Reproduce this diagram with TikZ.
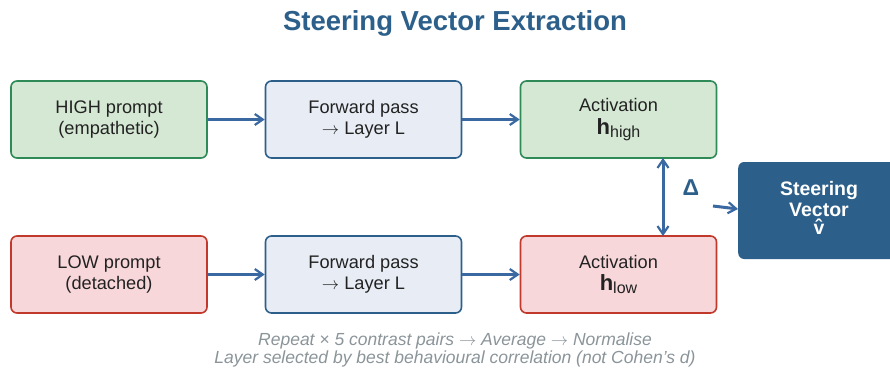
\documentclass[tikz,border=0pt]{standalone}
\usepackage{fontspec}
\setmainfont{Liberation Sans}
\usetikzlibrary{arrows.meta}
\definecolor{titleblue}{HTML}{2C5F8A}
\definecolor{arrowblue}{HTML}{3A68A0}
\definecolor{greenfill}{HTML}{D5E8D4}
\definecolor{greenline}{HTML}{2E8B57}
\definecolor{bluefill}{HTML}{E8EDF5}
\definecolor{blueline}{HTML}{2C5F8A}
\definecolor{redfill}{HTML}{F8D7DA}
\definecolor{redline}{HTML}{C0392B}
\definecolor{notegray}{HTML}{8A9499}
\definecolor{textdark}{HTML}{222222}
\tikzset{
  box/.style={draw, line width=1.6pt, rounded corners=6pt, minimum width=196pt, minimum height=77pt, align=center, text=textdark, font=\fontsize{18.2}{21.5}\selectfont, inner sep=0pt},
  highbox/.style={box, fill=greenfill, draw=greenline},
  fwdbox/.style={box, fill=bluefill, draw=blueline},
  lowbox/.style={box, fill=redfill, draw=redline},
  mytip/.tip={Straight Barb[length=8pt,width=11pt,line width=2.2pt]},
  conn/.style={draw=arrowblue, line width=2.4pt, -{mytip}},
}
\newcommand{\hvec}[1]{{\fontsize{22}{22}\selectfont\bfseries h}\raisebox{-3pt}{\fontsize{16}{16}\selectfont #1}}
\newcommand{\tarrow}{$\rightarrow$}
\begin{document}
\begin{tikzpicture}[x=1pt,y=-1pt]
\useasboundingbox (0,0) rectangle (890,367);
\clip (0,0) rectangle (890,367);
\node[text=titleblue, font=\fontsize{27.5}{30}\selectfont\bfseries] (title) at (455,23) {Steering Vector Extraction};

\node[highbox] (high) at (109,119.5) {HIGH prompt\\(empathetic)};
\node[fwdbox] (fwd1) at (363.5,119.5) {Forward pass\\\tarrow{} Layer L};
\node[highbox] (acth) at (618.5,119.5) {Activation\\[1pt]\hvec{high}};

\node[lowbox] (low) at (109,274.5) {LOW prompt\\(detached)};
\node[fwdbox] (fwd2) at (363.5,274.5) {Forward pass\\\tarrow{} Layer L};
\node[lowbox] (actl) at (618.5,274.5) {Activation\\[1pt]\hvec{low}};

\node[fill=titleblue, rounded corners=6pt, minimum width=160pt, minimum height=97pt, anchor=west, inner sep=0pt] (sv) at (738,210.5) {};
\node[text=white, font=\fontsize{19.5}{21}\selectfont\bfseries, align=center] (svt) at (819,207.5) {Steering\\Vector\\[-3pt]\^{v}};

\draw[conn] (high.east) -- (fwd1.west);
\draw[conn] (fwd1.east) -- (acth.west);
\draw[conn] (low.east) -- (fwd2.west);
\draw[conn] (fwd2.east) -- (actl.west);
\draw[conn, line width=3pt, {mytip}-{mytip}] (663,158) -- (663,236);
\node[text=titleblue, font=\fontsize{23}{23}\selectfont\bfseries] (delta) at (691,188) {Δ};
\coordinate (dstart) at (713,206);
\draw[conn, line width=3pt] (dstart) -- (sv.west |- 0,209);

\node[text=notegray, font=\fontsize{17.5}{18}\selectfont\itshape, align=center] (note) at (455,349.5) {Repeat × 5 contrast pairs \tarrow{} Average \tarrow{} Normalise\\Layer selected by best behavioural correlation (not Cohen's d)};
\end{tikzpicture}
\end{document}
